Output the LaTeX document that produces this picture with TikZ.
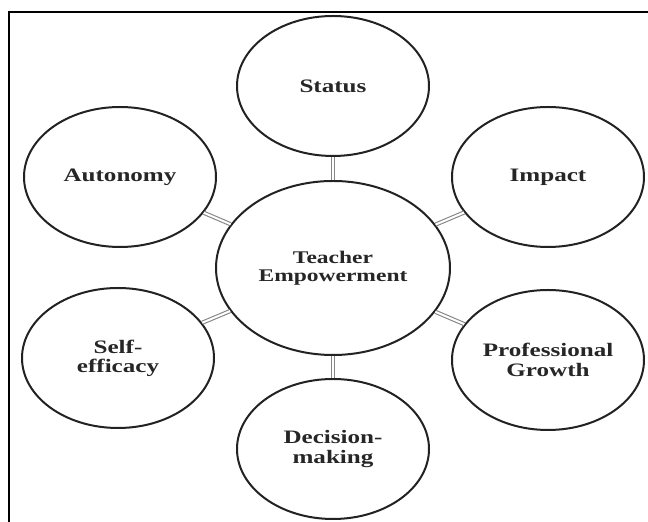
\documentclass[tikz,border=0pt]{standalone}
\usepackage{fontspec}
\setmainfont{Liberation Serif}[FakeStretch=1.32]
\usetikzlibrary{shapes.geometric}
\definecolor{inkgrey}{HTML}{222222}
\definecolor{linkgrey}{HTML}{858585}
\tikzset{
  bubble/.style={ellipse, draw=inkgrey, line width=1pt, inner sep=0pt,
                 minimum width=96pt, minimum height=70pt, align=center,
                 text=black!85, font=\fontsize{9.5}{9.6}\selectfont\bfseries},
  hub/.style={bubble, minimum width=117pt, minimum height=87pt,
              font=\fontsize{8.9}{9.2}\selectfont\bfseries},
  link/.style={draw=linkgrey, line width=0.55pt, double=white, double distance=1pt},
  edgeline/.style={draw=black, line width=1.2pt},
}

\begin{document}
\begin{tikzpicture}[x=0.5pt, y=-0.5pt]
  \useasboundingbox (0,0) rectangle (648,522);
  % open frame, top and left only
  \draw[edgeline] (648,12) -- (9,12) -- (9,522);

  \node[hub] (te) at (333,268) {Teacher\\Empowerment};
  \node[bubble] (st) at (333,86) {Status};
  \node[bubble] (aut) at (120,177) {Autonomy};
  \node[bubble] (imp) at (548,177) {Impact};
  \node[bubble] (self) at (118,358) {Self-\\efficacy};
  \node[bubble] (prof) at (548,360) {Professional\\Growth};
  \node[bubble] (dec) at (333,449) {Decision-\\making};

  \foreach \n in {st,aut,imp,self,prof,dec}
    \draw[link] (te) -- (\n);
\end{tikzpicture}
\end{document}
